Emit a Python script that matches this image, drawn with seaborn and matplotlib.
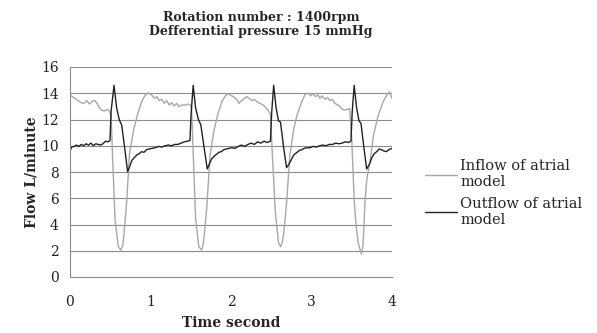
import seaborn as sns
import matplotlib.pyplot as plt
import pandas as pd

# Inflow of atrial model (time s, flow L/min)
inflow_time = [
    0.00, 0.03, 0.06, 0.10, 0.14, 0.17, 0.21, 0.24, 0.28, 0.31, 0.34, 0.37, 0.40, 0.44, 0.47, 0.49,
    0.51, 0.53, 0.56, 0.60, 0.63, 0.655, 0.67, 0.70, 0.74, 0.79, 0.84, 0.89, 0.93,
    0.97, 1.015, 1.05, 1.08, 1.106, 1.14, 1.17, 1.20, 1.235, 1.26, 1.296, 1.325, 1.354, 1.387, 1.43, 1.47, 1.495,
    1.51, 1.53, 1.56, 1.60, 1.635, 1.655, 1.67, 1.70, 1.74, 1.79, 1.84, 1.89, 1.93,
    1.957, 1.99, 2.03, 2.07, 2.10, 2.13, 2.165, 2.195, 2.224, 2.26, 2.29, 2.32, 2.36, 2.40, 2.443, 2.47,
    2.49, 2.51, 2.55, 2.59, 2.617, 2.64, 2.66, 2.69, 2.73, 2.78, 2.82, 2.88, 2.92,
    2.96, 2.99, 3.02, 3.05, 3.08, 3.105, 3.13, 3.17, 3.20, 3.23, 3.26, 3.29, 3.33, 3.354, 3.38, 3.416, 3.45, 3.474,
    3.50, 3.53, 3.553, 3.58, 3.62, 3.64, 3.652, 3.665, 3.69, 3.727, 3.77, 3.83, 3.89, 3.93, 3.97, 4.00,
]
inflow = [
    13.87, 13.74, 13.61, 13.44, 13.28, 13.23, 13.44, 13.18, 13.41, 13.44, 13.18, 12.85, 12.67, 12.67, 12.77, 12.60,
    12.40, 9.00, 4.34, 2.31, 2.06, 2.40, 3.20, 5.36, 9.42, 11.20, 12.40, 13.36, 13.80,
    14.04, 13.87, 13.61, 13.74, 13.44, 13.54, 13.23, 13.44, 13.10, 13.28, 13.03, 13.23, 12.98, 13.10, 13.10, 13.18, 13.10,
    12.90, 9.50, 4.50, 2.30, 2.06, 2.50, 3.30, 5.40, 9.30, 11.20, 12.50, 13.40, 13.80,
    13.97, 13.87, 13.74, 13.54, 13.23, 13.44, 13.61, 13.74, 13.61, 13.44, 13.54, 13.36, 13.23, 13.10, 12.85, 12.60,
    12.40, 9.80, 5.00, 2.60, 2.31, 2.70, 3.60, 5.60, 9.20, 11.30, 12.34, 13.36, 13.90,
    14.00, 13.80, 13.97, 13.74, 13.87, 13.61, 13.80, 13.54, 13.67, 13.44, 13.54, 13.23, 13.10, 12.98, 12.77, 12.72, 12.77, 12.85,
    10.50, 5.87, 4.00, 2.60, 1.75, 2.40, 4.00, 5.87, 7.60, 8.78, 10.80, 12.34, 13.36, 13.80, 14.10, 13.60,
]

# Outflow of atrial model
outflow_time = [
    0.00, 0.02, 0.05, 0.08, 0.11, 0.14, 0.17, 0.20, 0.23, 0.26, 0.29, 0.32, 0.35, 0.38, 0.41, 0.44, 0.47, 0.497,
    0.51, 0.547, 0.58, 0.613, 0.642, 0.68, 0.716, 0.74, 0.77, 0.80, 0.83, 0.86, 0.89, 0.92, 0.95, 0.98,
    1.02, 1.06, 1.10, 1.14, 1.18, 1.22, 1.26, 1.30, 1.34, 1.38, 1.42, 1.46, 1.49,
    1.505, 1.53, 1.56, 1.595, 1.625, 1.665, 1.705, 1.73, 1.76, 1.79, 1.82, 1.85, 1.88, 1.91, 1.94, 1.97,
    2.01, 2.05, 2.09, 2.13, 2.17, 2.21, 2.25, 2.29, 2.33, 2.37, 2.41, 2.45, 2.49,
    2.505, 2.53, 2.56, 2.59, 2.615, 2.655, 2.69, 2.72, 2.75, 2.78, 2.82, 2.85, 2.88, 2.91, 2.94, 2.98,
    3.02, 3.06, 3.10, 3.14, 3.18, 3.22, 3.26, 3.30, 3.34, 3.38, 3.42, 3.46, 3.49,
    3.505, 3.53, 3.56, 3.59, 3.615, 3.65, 3.685, 3.72, 3.75, 3.78, 3.81, 3.84, 3.87, 3.90, 3.93, 3.96, 4.00,
]
outflow = [
    9.60, 9.90, 9.95, 10.05, 9.95, 10.10, 10.00, 10.15, 10.05, 10.20, 10.00, 10.15, 10.10, 10.05, 10.15, 10.35, 10.30, 10.40,
    12.60, 14.60, 12.85, 11.96, 11.58, 9.80, 8.02, 8.40, 8.90, 9.10, 9.30, 9.40, 9.55, 9.50, 9.70, 9.75,
    9.80, 9.85, 9.95, 9.90, 10.00, 10.05, 10.00, 10.10, 10.10, 10.20, 10.30, 10.35, 10.40,
    12.50, 14.60, 12.90, 12.00, 11.60, 9.90, 8.23, 8.60, 9.00, 9.20, 9.35, 9.50, 9.55, 9.70, 9.75, 9.80,
    9.85, 9.80, 9.95, 10.05, 9.95, 10.10, 10.20, 10.10, 10.30, 10.20, 10.35, 10.25, 10.35,
    12.50, 14.60, 12.90, 11.90, 11.80, 9.80, 8.33, 8.60, 8.95, 9.30, 9.50, 9.65, 9.70, 9.80, 9.85, 9.85,
    9.95, 9.90, 10.00, 10.05, 10.00, 10.10, 10.10, 10.20, 10.15, 10.20, 10.30, 10.25, 10.35,
    12.50, 14.60, 12.90, 11.90, 11.70, 9.90, 8.23, 8.60, 9.10, 9.40, 9.55, 9.75, 9.70, 9.60, 9.55, 9.70, 9.80,
]

df_in = pd.DataFrame({'Time': inflow_time, 'Flow': inflow})
df_out = pd.DataFrame({'Time': outflow_time, 'Flow': outflow})

sns.set_theme(style='white')
plt.rcParams['font.family'] = ['DejaVu Serif']

fig = plt.figure(figsize=(5.97, 3.33), dpi=100)
ax = fig.add_axes([70 / 597, 1 - 277 / 333, 322 / 597, 210 / 333])

sns.lineplot(data=df_in, x='Time', y='Flow', ax=ax, color='#a8a8a8', linewidth=1.0,
             label='Inflow of atrial\nmodel')
sns.lineplot(data=df_out, x='Time', y='Flow', ax=ax, color='#222222', linewidth=1.0,
             label='Outflow of atrial\nmodel')

ax.set_xlim(0, 4)
ax.set_ylim(0, 16)
ax.set_xticks([0, 1, 2, 3, 4])
ax.set_yticks(range(0, 17, 2))
ax.yaxis.grid(True, color='#8c8c8c', linewidth=0.8)
ax.set_axisbelow(True)
for side in ['top', 'right']:
    ax.spines[side].set_visible(False)
for side in ['left', 'bottom']:
    ax.spines[side].set_color('#8c8c8c')
    ax.spines[side].set_linewidth(0.8)
ax.tick_params(axis='both', which='both', direction='out', length=4, width=0.8,
               color='#8c8c8c', labelsize=10, labelcolor='#222222')
ax.tick_params(axis='x', pad=9)
ax.tick_params(axis='y', pad=4)

ax.set_xlabel('Time second', fontsize=10, fontweight='bold', labelpad=5)
ax.set_ylabel('Flow L/minute', fontsize=10, fontweight='bold', labelpad=2)

fig.text(261 / 597, 1 - 17 / 333, 'Rotation number : 1400rpm', ha='center', va='center',
         fontsize=9, fontweight='bold')
fig.text(261 / 597, 1 - 32 / 333, 'Defferential pressure 15 mmHg', ha='center', va='center',
         fontsize=9, fontweight='bold')

ax.legend(loc='upper left', bbox_to_anchor=(412 / 597, 1 - 146 / 333),
          bbox_transform=fig.transFigure, frameon=False, fontsize=10.5,
          handlelength=2.2, handletextpad=0.2, labelspacing=0.5)

plt.savefig('out.png', dpi=100)
